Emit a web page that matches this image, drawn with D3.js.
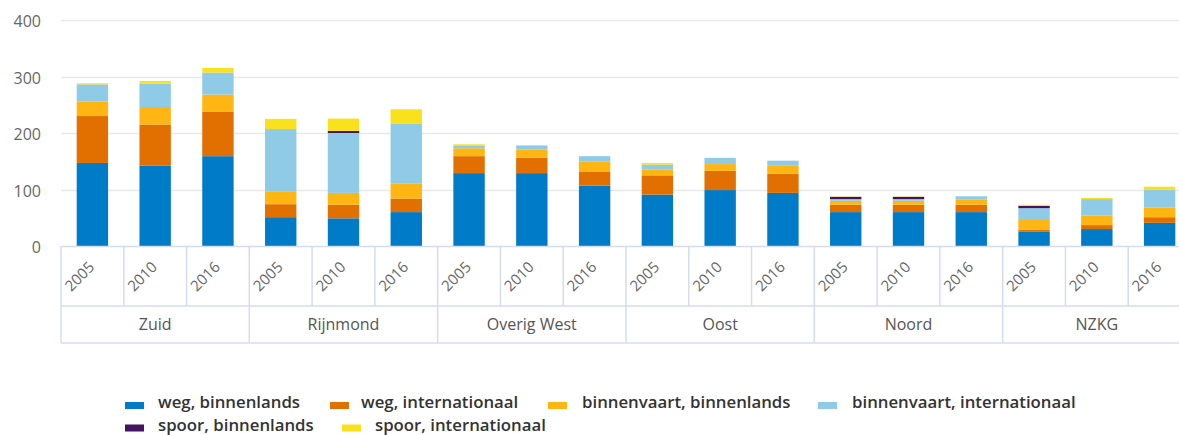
<!DOCTYPE html>
<html>
<head>
<meta charset="utf-8">
<script src="https://cdn.jsdelivr.net/npm/d3@7"></script>
<style>
  html, body { margin: 0; padding: 0; background: #fff; overflow: hidden; }
  svg { display: block; font-family: "Open Sans", "Noto Sans", sans-serif; }
</style>
</head>
<body>
<svg id="chart" width="1179" height="435"></svg>
<script>
// ---- data ----
const groups = ["Zuid", "Rijnmond", "Overig West", "Oost", "Noord", "NZKG"];
const years = ["2005", "2010", "2016"];
const yTicks = [0, 100, 200, 300, 400];

const seriesNames = ["weg, binnenlands", "weg, internationaal", "binnenvaart, binnenlands",
                     "binnenvaart, internationaal", "spoor, binnenlands", "spoor, internationaal"];
const seriesColors = ["#007BC7", "#E17000", "#FFB612", "#8FCAE7", "#42145F", "#F9E11E"];

// values per bar, ordered group by group, year by year
const wegBinnenlands            = [147, 142, 159,  51,  49,  60, 129, 129, 107,  91,  99,  94,  60,  60,  60,  25,  30,  41];
const wegInternationaal         = [ 83,  73,  79,  23,  24,  24,  30,  27,  24,  34,  34,  34,  13,  13,  13,   4,   7,  10];
const binnenvaartBinnenlands    = [ 26,  31,  30,  23,  21,  27,  14,  15,  19,  10,  12,  14,   7,   7,   9,  17,  17,  17];
const binnenvaartInternationaal = [ 30,  41,  39, 110, 106, 106,   5,   7,   9,   9,  11,   9,   3,   3,   6,  21,  29,  32];
const spoorBinnenlands          = [  0,   0,   0,   0, 3.5,   0,   0,   0,   0,   0,   0,   0,   4,   4,   0,   4,   0,   0];
const spoorInternationaal       = [  2,   5,   8,  18,  22,  25,   2,   0,   0,   3,   0,   0, 0.5, 0.5,   0,   2,   2,   5];

const seriesValues = [wegBinnenlands, wegInternationaal, binnenvaartBinnenlands,
                      binnenvaartInternationaal, spoorBinnenlands, spoorInternationaal];

// ---- build table ----
const rows = [];
groups.forEach((g, gi) => years.forEach((yr, yi) => {
  const idx = gi * years.length + yi;
  const row = { group: g, year: yr };
  seriesNames.forEach((s, si) => row[s] = seriesValues[si][idx]);
  rows.push(row);
}));
const stacked = d3.stack().keys(seriesNames)(rows);

// ---- layout ----
const svg = d3.select("#chart");
const plotLeft = 61, plotRight = 1191, plotTop = 20, plotBottom = 246;
const yearRowBottom = 306, groupRowBottom = 343;

const y = d3.scaleLinear().domain([0, 400]).range([plotBottom, plotTop]);
const xGroup = d3.scaleBand().domain(groups).range([plotLeft, plotRight]).padding(0);
const xYear = d3.scaleBand().domain(years).range([0, xGroup.bandwidth()]).padding(0);
const color = d3.scaleOrdinal().domain(seriesNames).range(seriesColors);

// gridlines
svg.append("g")
  .selectAll("line").data(yTicks.filter(t => t > 0)).join("line")
  .attr("x1", plotLeft).attr("x2", 1179)
  .attr("y1", d => Math.round(y(d)) + 0.5).attr("y2", d => Math.round(y(d)) + 0.5)
  .attr("stroke", "#e8e8e8").attr("stroke-width", 1.5);

// y axis labels
const yAxis = svg.append("g")
  .attr("transform", `translate(${plotLeft - 20},0)`)
  .call(d3.axisLeft(y).tickValues(yTicks).tickSize(0).tickPadding(0));
yAxis.select(".domain").remove();
yAxis.selectAll("text")
  .attr("x", 0).attr("dy", "0.42em")
  .attr("fill", "#666").style("font-size", "16px")
  .style("font-family", "'Open Sans', sans-serif");

// bars
const barW = xYear.bandwidth() * 0.5;
svg.append("g").selectAll("g").data(stacked).join("g")
  .attr("fill", d => color(d.key))
  .selectAll("rect").data(d => d).join("rect")
  .attr("x", d => xGroup(d.data.group) + xYear(d.data.year) + xYear.bandwidth() * 0.25)
  .attr("width", barW)
  .attr("y", d => y(d[1]))
  .attr("height", d => Math.max(0, y(d[0]) - y(d[1])));

// x axis grid (category boxes)
const gridColor = "#d5dcec";
const xg = svg.append("g").attr("stroke", gridColor).attr("stroke-width", 1.5);
xg.append("line").attr("x1", plotLeft).attr("x2", 1179).attr("y1", plotBottom + 0.5).attr("y2", plotBottom + 0.5);
xg.append("line").attr("x1", plotLeft).attr("x2", 1179).attr("y1", yearRowBottom).attr("y2", yearRowBottom);
xg.append("line").attr("x1", plotLeft).attr("x2", 1179).attr("y1", groupRowBottom).attr("y2", groupRowBottom);
groups.forEach(g => {
  years.forEach((yr, yi) => {
    if (yi > 0) {
      const xx = xGroup(g) + xYear(yr);
      xg.append("line").attr("x1", xx).attr("x2", xx).attr("y1", plotBottom).attr("y2", yearRowBottom);
    }
  });
  const gx = xGroup(g);
  xg.append("line").attr("x1", gx).attr("x2", gx).attr("y1", plotBottom).attr("y2", groupRowBottom);
});

// year labels
svg.append("g").selectAll("text").data(rows).join("text")
  .attr("transform", d => {
    const cx = xGroup(d.group) + xYear(d.year) + xYear.bandwidth() / 2 + 3;
    return `translate(${cx},${268}) rotate(-45)`;
  })
  .attr("text-anchor", "end")
  .attr("fill", "#666")
  .style("font-size", "15px")
  .text(d => d.year);

// group labels
svg.append("g").selectAll("text").data(groups).join("text")
  .attr("x", d => xGroup(d) + xGroup.bandwidth() / 2)
  .attr("y", (yearRowBottom + groupRowBottom) / 2)
  .attr("dy", "0.35em")
  .attr("text-anchor", "middle")
  .attr("fill", "#555")
  .style("font-size", "16px")
  .text(d => d);

// legend
const legendPos = [
  { sx: 125, tx: 158, row: 0 },
  { sx: 330, tx: 361, row: 0 },
  { sx: 548, tx: 582, row: 0 },
  { sx: 818, tx: 852, row: 0 },
  { sx: 125, tx: 158, row: 1 },
  { sx: 342, tx: 375, row: 1 }
];
const lg = svg.append("g");
seriesNames.forEach((s, i) => {
  const p = legendPos[i];
  const base = 408 + p.row * 22.5;
  lg.append("rect").attr("x", p.sx).attr("y", base - 6).attr("width", 19).attr("height", 7)
    .attr("fill", color(s));
  lg.append("text").attr("x", p.tx).attr("y", base)
    .attr("fill", "#333").style("font-size", "16.8px").style("font-weight", 600)
    .text(s);
});
</script>
</body>
</html>
